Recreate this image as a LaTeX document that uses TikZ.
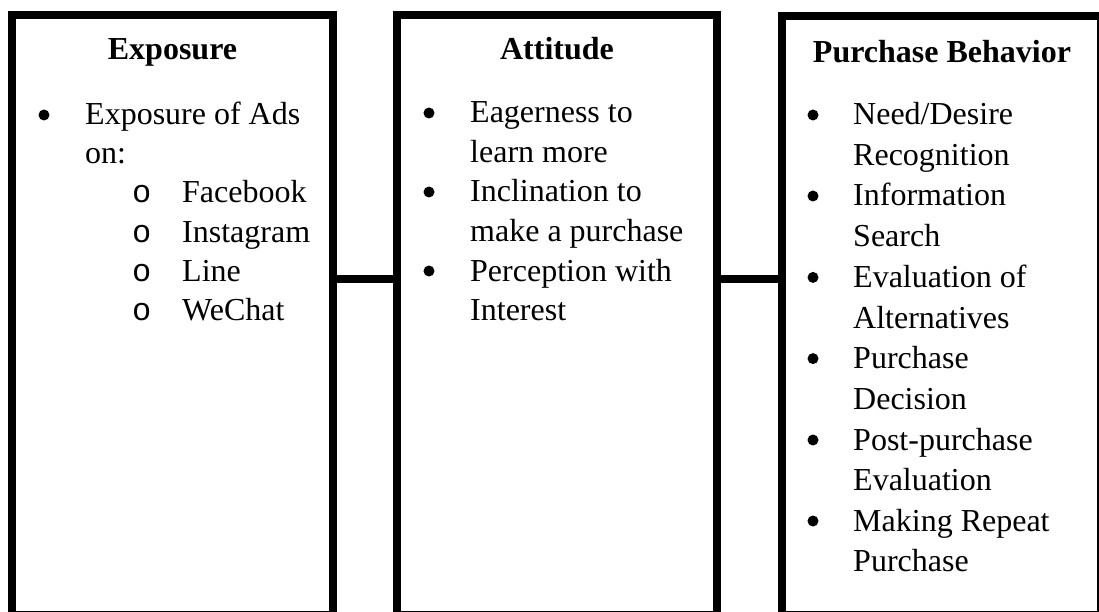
\documentclass[tikz,border=0pt]{standalone}
\usepackage{fontspec}
\setmainfont{Liberation Serif}
\newfontfamily\circfont{Liberation Mono}
\begin{document}
\begin{tikzpicture}[x=1pt,y=-1pt,
  panel/.style={draw, line width=8pt, rectangle, inner sep=0pt, outer sep=0pt},
  link/.style={line width=8pt},
  txt/.style={anchor=base west, inner sep=0pt, font=\fontsize{32}{40}\selectfont},
  head/.style={anchor=base, inner sep=0pt, font=\fontsize{32}{40}\selectfont\bfseries},
  dot/.style={circle, fill, inner sep=0pt, minimum size=11pt},
  ring/.style={anchor=base west, inner sep=0pt, font=\fontsize{32}{40}\circfont}]
\useasboundingbox (0,0) rectangle (1099,612);
\begin{scope}
\clip (0,0) rectangle (1099,612);
% three panels
\node[panel, minimum width=321pt, minimum height=599.5pt] (exp) at (172.5,314.75) {};
\node[panel, minimum width=320pt, minimum height=599.5pt] (att) at (557,314.75) {};
\node[panel, minimum width=319pt, minimum height=598pt] (pur) at (941.5,315.5) {};
% links between panels
\draw[link] (exp.east |- 0,279) -- (att.west |- 0,279);
\draw[link] (att.east |- 0,279) -- (pur.west |- 0,279);
\end{scope}

% headings
\node[head] (hexp) at (172.5,60) {Exposure};
\node[head] (hatt) at (557,60) {Attitude};
\node[head] (hpur) at (942,63) {Purchase Behavior};

% Exposure panel
\node[dot] (e1) at (44,115) {};
\node[txt] (e1a) at (85,125) {Exposure of Ads};
\node[txt] (e1b) at (85,164) {on:};
\node[ring] (r1) at (132,203) {o};
\node[txt] (s1) at (182,203) {Facebook};
\node[ring] (r2) at (132,242) {o};
\node[txt] (s2) at (182,242) {Instagram};
\node[ring] (r3) at (132,281) {o};
\node[txt] (s3) at (182,281) {Line};
\node[ring] (r4) at (132,320) {o};
\node[txt] (s4) at (182,320) {WeChat};

% Attitude panel
\node[dot] (a1) at (429,113) {};
\node[txt] (a1a) at (470,123) {Eagerness to};
\node[txt] (a1b) at (470,162.5) {learn more};
\node[dot] (a2) at (429,192) {};
\node[txt] (a2a) at (470,202) {Inclination to};
\node[txt] (a2b) at (470,241.5) {make a purchase};
\node[dot] (a3) at (429,271) {};
\node[txt] (a3a) at (470,281) {Perception with};
\node[txt] (a3b) at (470,320.5) {Interest};

% Purchase Behavior panel
\node[dot] (p1) at (813,115) {};
\node[txt] (p1a) at (853,125) {Need/Desire};
\node[txt] (p1b) at (853,165.6) {Recognition};
\node[dot] (p2) at (813,196) {};
\node[txt] (p2a) at (853,206) {Information};
\node[txt] (p2b) at (853,246.8) {Search};
\node[dot] (p3) at (813,277.4) {};
\node[txt] (p3a) at (853,287.4) {Evaluation of};
\node[txt] (p3b) at (853,328) {Alternatives};
\node[dot] (p4) at (813,358.6) {};
\node[txt] (p4a) at (853,368.6) {Purchase};
\node[txt] (p4b) at (853,409) {Decision};
\node[dot] (p5) at (813,440) {};
\node[txt] (p5a) at (853,450) {Post-purchase};
\node[txt] (p5b) at (853,490.4) {Evaluation};
\node[dot] (p6) at (813,521) {};
\node[txt] (p6a) at (853,531) {Making Repeat};
\node[txt] (p6b) at (853,571.6) {Purchase};
\end{tikzpicture}
\end{document}
